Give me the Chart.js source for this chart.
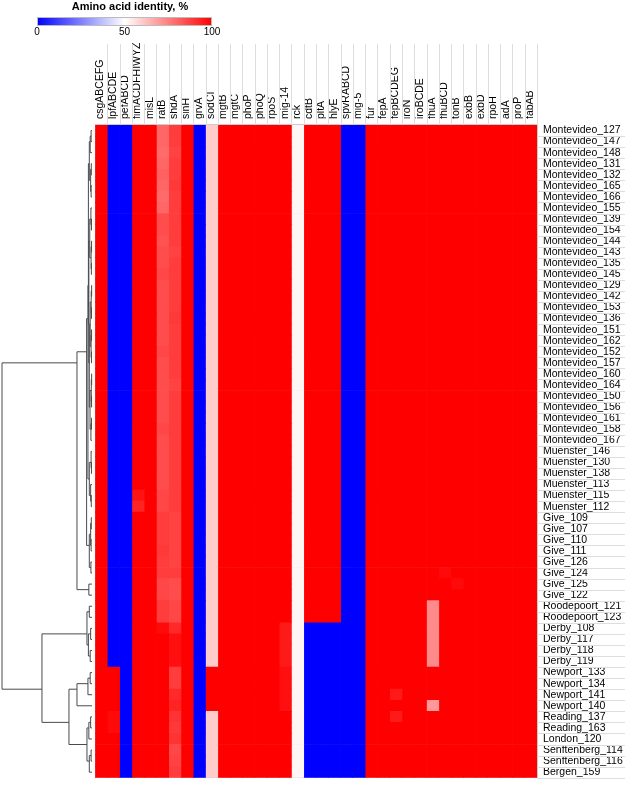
<!DOCTYPE html>
<html>
<head>
<meta charset="utf-8">
<script src="https://cdn.jsdelivr.net/npm/chart.js@4.4.1/dist/chart.umd.min.js"></script>
<style>
  html, body { margin: 0; padding: 0; background: #fff; }
  #wrap { width: 625px; height: 790px; position: relative; }
</style>
</head>
<body>
<div id="wrap"><canvas id="heat"></canvas></div>
<script>
// strains in dendrogram order (top to bottom)
var strains = [
  'Montevideo_127', 'Montevideo_147', 'Montevideo_148', 'Montevideo_131', 'Montevideo_132',
  'Montevideo_165', 'Montevideo_166', 'Montevideo_155', 'Montevideo_139', 'Montevideo_154',
  'Montevideo_144', 'Montevideo_143', 'Montevideo_135', 'Montevideo_145', 'Montevideo_129',
  'Montevideo_142', 'Montevideo_153', 'Montevideo_136', 'Montevideo_151', 'Montevideo_162',
  'Montevideo_152', 'Montevideo_157', 'Montevideo_160', 'Montevideo_164', 'Montevideo_150',
  'Montevideo_156', 'Montevideo_161', 'Montevideo_158', 'Montevideo_167',
  'Muenster_146', 'Muenster_130', 'Muenster_138', 'Muenster_113', 'Muenster_115', 'Muenster_112',
  'Give_109', 'Give_107', 'Give_110', 'Give_111', 'Give_126', 'Give_124', 'Give_125', 'Give_122',
  'Roodepoort_121', 'Roodepoort_123',
  'Derby_108', 'Derby_117', 'Derby_118', 'Derby_119',
  'Newport_133', 'Newport_134', 'Newport_141', 'Newport_140',
  'Reading_137', 'Reading_163', 'London_120', 'Senftenberg_114', 'Senftenberg_116', 'Bergen_159'
];

var genes = [
  'csgABCEFG', 'lpfABCDE', 'pefABCD', 'fimACDFHIWYZ', 'misL', 'ratB', 'shdA', 'sinH', 'grvA', 'sodCI',
  'mgtB', 'mgtC', 'phoP', 'phoQ', 'rpoS', 'mig-14', 'rck', 'cdtB', 'pltA', 'hlyE', 'spvRABCD', 'mig-5',
  'fur', 'fepA', 'fepBCDEG', 'iroN', 'iroBCDE', 'fhuA', 'fhuBCD', 'tonB', 'exbB', 'exbD', 'rpoH', 'adA',
  'proP', 'fabAB'
];

// amino acid identity (%), one row per strain, one value per gene
var identity = [
  [100,0,0,100,100,80,88,100,0,60,100,100,100,100,100,100,52,100,100,100,0,0,100,100,100,100,100,100,100,100,100,100,100,100,100,100],
  [100,0,0,100,100,80,88,100,0,60,100,100,100,100,100,100,52,100,100,100,0,0,100,100,100,100,100,100,100,100,100,100,100,100,100,100],
  [100,0,0,100,100,79,87,100,0,60,100,100,100,100,100,100,52,100,100,100,0,0,100,100,100,100,100,100,100,100,100,100,100,100,100,100],
  [100,0,0,100,100,80,88,100,0,60,100,100,100,100,100,100,52,100,100,100,0,0,100,100,100,100,100,100,100,100,100,100,100,100,100,100],
  [100,0,0,100,100,81,88,100,0,60,100,100,100,100,100,100,52,100,100,100,0,0,100,100,100,100,100,100,100,100,100,100,100,100,100,100],
  [100,0,0,100,100,80,89,100,0,60,100,100,100,100,100,100,52,100,100,100,0,0,100,100,100,100,100,100,100,100,100,100,100,100,100,100],
  [100,0,0,100,100,79,88,100,0,60,100,100,100,100,100,100,52,100,100,100,0,0,100,100,100,100,100,100,100,100,100,100,100,100,100,100],
  [100,0,0,100,100,80,88,100,0,60,100,100,100,100,100,100,52,100,100,100,0,0,100,100,100,100,100,100,100,100,100,100,100,100,100,100],
  [100,0,0,100,100,85,88,100,0,60,100,100,100,100,100,100,52,100,100,100,0,0,100,100,100,100,100,100,100,100,100,100,100,100,100,100],
  [100,0,0,100,100,85,88,100,0,60,100,100,100,100,100,100,52,100,100,100,0,0,100,100,100,100,100,100,100,100,100,100,100,100,100,100],
  [100,0,0,100,100,84,88,100,0,60,100,100,100,100,100,100,52,100,100,100,0,0,100,100,100,100,100,100,100,100,100,100,100,100,100,100],
  [100,0,0,100,100,85,87,100,0,60,100,100,100,100,100,100,52,100,100,100,0,0,100,100,100,100,100,100,100,100,100,100,100,100,100,100],
  [100,0,0,100,100,85,88,100,0,60,100,100,100,100,100,100,52,100,100,100,0,0,100,100,100,100,100,100,100,100,100,100,100,100,100,100],
  [100,0,0,100,100,86,88,100,0,60,100,100,100,100,100,100,52,100,100,100,0,0,100,100,100,100,100,100,100,100,100,100,100,100,100,100],
  [100,0,0,100,100,85,88,100,0,60,100,100,100,100,100,100,52,100,100,100,0,0,100,100,100,100,100,100,100,100,100,100,100,100,100,100],
  [100,0,0,100,100,85,88,100,0,60,100,100,100,100,100,100,52,100,100,100,0,0,100,100,100,100,100,100,100,100,100,100,100,100,100,100],
  [100,0,0,100,100,85,88,100,0,60,100,100,100,100,100,100,52,100,100,100,0,0,100,100,100,100,100,100,100,100,100,100,100,100,100,100],
  [100,0,0,100,100,85,89,100,0,60,100,100,100,100,100,100,52,100,100,100,0,0,100,100,100,100,100,100,100,100,100,100,100,100,100,100],
  [100,0,0,100,100,85,88,100,0,60,100,100,100,100,100,100,52,100,100,100,0,0,100,100,100,100,100,100,100,100,100,100,100,100,100,100],
  [100,0,0,100,100,85,88,100,0,60,100,100,100,100,100,100,52,100,100,100,0,0,100,100,100,100,100,100,100,100,100,100,100,100,100,100],
  [100,0,0,100,100,86,88,100,0,60,100,100,100,100,100,100,52,100,100,100,0,0,100,100,100,100,100,100,100,100,100,100,100,100,100,100],
  [100,0,0,100,100,85,88,100,0,60,100,100,100,100,100,100,52,100,100,100,0,0,100,100,100,100,100,100,100,100,100,100,100,100,100,100],
  [100,0,0,100,100,85,88,100,0,60,100,100,100,100,100,100,52,100,100,100,0,0,100,100,100,100,100,100,100,100,100,100,100,100,100,100],
  [100,0,0,100,100,85,87,100,0,60,100,100,100,100,100,100,52,100,100,100,0,0,100,100,100,100,100,100,100,100,100,100,100,100,100,100],
  [100,0,0,100,100,85,88,100,0,60,100,100,100,100,100,100,52,100,100,100,0,0,100,100,100,100,100,100,100,100,100,100,100,100,100,100],
  [100,0,0,100,100,85,88,100,0,60,100,100,100,100,100,100,52,100,100,100,0,0,100,100,100,100,100,100,100,100,100,100,100,100,100,100],
  [100,0,0,100,100,85,88,100,0,60,100,100,100,100,100,100,52,100,100,100,0,0,100,100,100,100,100,100,100,100,100,100,100,100,100,100],
  [100,0,0,100,100,86,88,100,0,60,100,100,100,100,100,100,52,100,100,100,0,0,100,100,100,100,100,100,100,100,100,100,100,100,100,100],
  [100,0,0,100,100,85,88,100,0,60,100,100,100,100,100,100,52,100,100,100,0,0,100,100,100,100,100,100,100,100,100,100,100,100,100,100],
  [100,0,0,100,100,85,88,100,0,60,100,100,100,100,100,100,52,100,100,100,0,0,100,100,100,100,100,100,100,100,100,100,100,100,100,100],
  [100,0,0,100,100,85,88,100,0,60,100,100,100,100,100,100,52,100,100,100,0,0,100,100,100,100,100,100,100,100,100,100,100,100,100,100],
  [100,0,0,100,100,85,88,100,0,60,100,100,100,100,100,100,52,100,100,100,0,0,100,100,100,100,100,100,100,100,100,100,100,100,100,100],
  [100,0,0,100,100,85,88,100,0,60,100,100,100,100,100,100,52,100,100,100,0,0,100,100,100,100,100,100,100,100,100,100,100,100,100,100],
  [100,0,0,96,100,86,88,100,0,60,100,100,100,100,100,100,52,100,100,100,0,0,100,100,100,100,100,100,100,100,100,100,100,100,100,100],
  [100,0,0,93,100,86,88,100,0,60,100,100,100,100,100,100,52,100,100,100,0,0,100,100,100,100,100,100,100,100,100,100,100,100,100,100],
  [100,0,0,100,100,88,87,100,0,60,100,100,100,100,100,100,52,100,100,100,0,0,100,100,100,100,100,100,100,100,100,100,100,100,100,100],
  [100,0,0,100,100,88,87,100,0,60,100,100,100,100,100,100,52,100,100,100,0,0,100,100,100,100,100,100,100,100,100,100,100,100,100,100],
  [100,0,0,100,100,88,87,100,0,60,100,100,100,100,100,100,52,100,100,100,0,0,100,100,100,100,100,100,100,100,100,100,100,100,100,100],
  [100,0,0,100,100,89,87,100,0,60,100,100,100,100,100,100,52,100,100,100,0,0,100,100,100,100,100,100,100,100,100,100,100,100,100,100],
  [100,0,0,100,100,88,87,100,0,60,100,100,100,100,100,100,52,100,100,100,0,0,100,100,100,100,100,100,100,100,100,100,100,100,100,100],
  [100,0,0,100,100,88,88,100,0,60,100,100,100,100,100,100,52,100,100,100,0,0,100,100,100,100,100,100,98,100,100,100,100,100,100,100],
  [100,0,0,100,100,86,85,100,0,60,100,100,100,100,100,100,52,100,100,100,0,0,100,100,100,100,100,100,100,98,100,100,100,100,100,100],
  [100,0,0,100,100,86,85,100,0,60,100,100,100,100,100,100,52,100,100,100,0,0,100,100,100,100,100,100,100,100,100,100,100,100,100,100],
  [100,0,0,100,100,88,86,100,0,60,100,100,100,100,100,100,52,100,100,100,0,0,100,100,100,100,100,73,100,100,100,100,100,100,100,100],
  [100,0,0,100,100,88,86,100,0,60,100,100,100,100,100,100,52,100,100,100,0,0,100,100,100,100,100,73,100,100,100,100,100,100,100,100],
  [100,0,0,100,100,98,92,100,0,60,100,100,100,100,100,95,52,0,0,0,0,0,100,100,100,100,100,73,100,100,100,100,100,100,100,100],
  [100,0,0,100,100,100,97,100,0,60,100,100,100,100,100,95,52,0,0,0,0,0,100,100,100,100,100,73,100,100,100,100,100,100,100,100],
  [100,0,0,100,100,100,97,100,0,60,100,100,100,100,100,95,52,0,0,0,0,0,100,100,100,100,100,73,100,100,100,100,100,100,100,100],
  [100,0,0,100,100,100,97,100,0,60,100,100,100,100,100,95,52,0,0,0,0,0,100,100,100,100,100,73,100,100,100,100,100,100,100,100],
  [100,100,0,100,100,100,88,100,0,100,100,100,100,100,100,97,52,0,0,0,0,0,100,100,100,100,100,100,100,100,100,100,100,100,100,100],
  [100,100,0,100,100,100,88,100,0,100,100,100,100,100,100,97,52,0,0,0,0,0,100,100,100,100,100,100,100,100,100,100,100,100,100,100],
  [100,100,0,100,100,100,92,100,0,100,100,100,100,100,100,97,52,0,0,0,0,0,100,100,95,100,100,100,100,100,100,100,100,100,100,100],
  [100,100,0,100,100,100,93,100,0,100,100,100,100,100,100,97,52,0,0,0,0,0,100,100,100,100,100,70,100,100,100,100,100,100,100,100],
  [100,98,0,100,100,100,90,100,0,60,100,100,100,100,100,100,52,0,0,0,0,0,100,100,95,100,100,100,100,100,100,100,100,100,100,100],
  [100,98,0,100,100,100,89,100,0,60,100,100,100,100,100,100,52,0,0,0,0,0,100,100,100,100,100,100,100,100,100,100,100,100,100,100],
  [100,100,0,100,100,100,90,100,0,60,100,100,100,100,100,100,52,0,0,0,0,0,100,100,100,100,100,100,100,100,100,100,100,100,100,100],
  [100,100,0,100,100,100,86,100,0,60,100,100,100,100,100,100,52,0,0,0,0,0,100,100,100,100,100,100,100,100,100,100,100,100,100,100],
  [100,100,0,100,100,100,87,100,0,60,100,100,100,100,100,100,52,0,0,0,0,0,100,100,100,100,100,100,100,100,100,100,100,100,100,100],
  [100,100,0,100,100,100,88,100,0,60,100,100,100,100,100,100,52,0,0,0,0,0,100,100,100,100,100,100,100,100,100,100,100,100,100,100]
];

// colour key ticks
var keyTicks = [0, 50, 100];

// row dendrogram: [height, left, right], leaves are row indices
var montevideo = [0.04,
  [0.03, [0.02, [0.01, 0, 1], 2], [0.015, [0.008, 3, 4], [0.01, 5, 6]]],
  [0.035,
    [0.025, [0.012, 7, [0.006, 8, 9]], [0.01, [0.005, 10, 11], [0.007, 12, 13]]],
    [0.03,
      [0.02, [0.009, [0.004, 14, 15], [0.006, 16, 17]], [0.01, [0.005, 18, 19], [0.006, 20, 21]]],
      [0.022, [0.008, [0.004, 22, 23], [0.005, 24, 25]], [0.012, [0.006, 26, 27], 28]]]]];
var muenster = [0.03, [0.01, 29, [0.006, 30, 31]], [0.015, 32, [0.008, 33, 34]]];
var give = [0.03, [0.015, [0.008, 35, 36], [0.01, 37, 38]], [0.012, 39, 40]];
var roodDerby = [0.056, [0.03, 43, 44], [0.04, [0.015, 45, 46], [0.02, 47, 48]]];
var newport = [0.167, [0.045, [0.02, 49, 50], 51], 52];
var others = [0.056, [0.035, [0.015, 53, 54], 55], [0.03, [0.01, 56, 57], 58]];
var dendrogram = [1.0,
  [0.167, [0.06, [0.045, montevideo, muenster], give], [0.035, 41, 42]],
  [0.556, roodDerby, [0.256, newport, others]]];

function identityColor(v) {
  var c;
  if (v <= 50) {
    c = Math.round(255 * v / 50);
    return 'rgb(' + c + ',' + c + ',255)';
  }
  c = Math.round(255 * (100 - v) / 50);
  return 'rgb(255,' + c + ',' + c + ')';
}

var labelFont = { family: "'Liberation Sans', Arial, sans-serif", size: 10.5 };
var cellGrid = 'rgba(110,110,110,0.35)';

var datasets = genes.map(function (gene, j) {
  return {
    label: gene,
    data: strains.map(function () { return 1; }),
    backgroundColor: strains.map(function (s, i) { return identityColor(identity[i][j]); }),
    borderWidth: 0,
    barPercentage: 1,
    categoryPercentage: 1
  };
});

// dendrogram, outer guide lines and the colour key
var decorations = {
  id: 'decorations',
  afterDraw: function (chart) {
    var ctx = chart.ctx;
    var area = chart.chartArea;
    var x = chart.scales.x;
    var y = chart.scales.y;
    var rowH = (area.bottom - area.top) / strains.length;

    ctx.save();
    // guide lines outside the heat map
    ctx.strokeStyle = '#dddddd';
    ctx.lineWidth = 1;
    for (var j = 1; j <= genes.length; j++) {
      var px = Math.round(x.getPixelForValue(j)) + 0.5;
      ctx.beginPath();
      ctx.moveTo(px, 44);
      ctx.lineTo(px, area.top);
      ctx.stroke();
    }
    for (var i = 1; i <= strains.length; i++) {
      var py = Math.round(y.getPixelForValue(i) - rowH / 2) + 0.5;
      ctx.beginPath();
      ctx.moveTo(area.right, py);
      ctx.lineTo(chart.width, py);
      ctx.stroke();
    }

    // dendrogram: a node sits at the mean position of its leaves
    var leafX = area.left - 3;
    var rootX = 2;
    function hx(h) { return leafX - h * (leafX - rootX); }
    ctx.strokeStyle = '#4a4a4a';
    ctx.lineWidth = 1;
    function drawNode(node) {
      if (typeof node === 'number') {
        var p = y.getPixelForValue(node);
        return { pos: p, sum: p, n: 1, h: 0 };
      }
      var a = drawNode(node[1]);
      var b = drawNode(node[2]);
      var nx = hx(node[0]);
      ctx.beginPath();
      ctx.moveTo(hx(a.h), a.pos);
      ctx.lineTo(nx, a.pos);
      ctx.lineTo(nx, b.pos);
      ctx.lineTo(hx(b.h), b.pos);
      ctx.stroke();
      var sum = a.sum + b.sum, n = a.n + b.n;
      return { pos: sum / n, sum: sum, n: n, h: node[0] };
    }
    drawNode(dendrogram);

    // colour key
    var kx0 = 37, kx1 = 212, ky = 17, kh = 9;
    var grad = ctx.createLinearGradient(kx0, 0, kx1, 0);
    grad.addColorStop(0, identityColor(0));
    grad.addColorStop(0.5, identityColor(50));
    grad.addColorStop(1, identityColor(100));
    ctx.fillStyle = grad;
    ctx.fillRect(kx0, ky, kx1 - kx0, kh);
    ctx.strokeStyle = '#bbbbbb';
    ctx.strokeRect(kx0 + 0.5, ky + 0.5, kx1 - kx0 - 1, kh - 1);
    ctx.fillStyle = '#000';
    ctx.font = "bold 11px 'Liberation Sans', Arial, sans-serif";
    ctx.textAlign = 'center';
    ctx.textBaseline = 'middle';
    ctx.fillText('Amino acid identity, %', 130, 7);
    ctx.font = "10px 'Liberation Sans', Arial, sans-serif";
    ctx.textBaseline = 'top';
    keyTicks.forEach(function (t) {
      ctx.fillText(String(t), kx0 + (kx1 - kx0) * t / 100, ky + kh + 1);
    });
    ctx.restore();
  }
};

var ctx = document.getElementById('heat').getContext('2d');
var heatChart = new Chart(ctx, {
  type: 'bar',
  data: { labels: strains, datasets: datasets },
  options: {
    indexAxis: 'y',
    responsive: true,
    maintainAspectRatio: false,
    animation: false,
    layout: { padding: { left: 95, top: 0, right: 0, bottom: 4 } },
    plugins: { legend: { display: false }, tooltip: { enabled: false } },
    scales: {
      x: {
        type: 'linear',
        stacked: true,
        min: 0,
        max: genes.length,
        position: 'bottom',
        z: 1,
        ticks: { display: false, stepSize: 1 },
        grid: { color: cellGrid, drawTicks: false },
        border: { display: false },
        afterFit: function (s) { s.height = 0; }
      },
      x2: {
        type: 'category',
        axis: 'x',
        labels: genes,
        position: 'top',
        offset: true,
        grid: { display: false, drawTicks: false },
        border: { display: false },
        ticks: { autoSkip: false, minRotation: 90, maxRotation: 90, padding: 6, labelOffset: 12, color: '#000', font: labelFont },
        afterFit: function (s) { s.height = 125; }
      },
      y: {
        type: 'category',
        position: 'right',
        stacked: true,
        offset: true,
        z: 1,
        grid: { offset: true, color: cellGrid, drawTicks: false },
        border: { display: false },
        ticks: { autoSkip: false, padding: 6, color: '#000', font: labelFont },
        afterFit: function (s) { s.width = 88; }
      }
    }
  },
  plugins: [decorations]
});
</script>
</body>
</html>
